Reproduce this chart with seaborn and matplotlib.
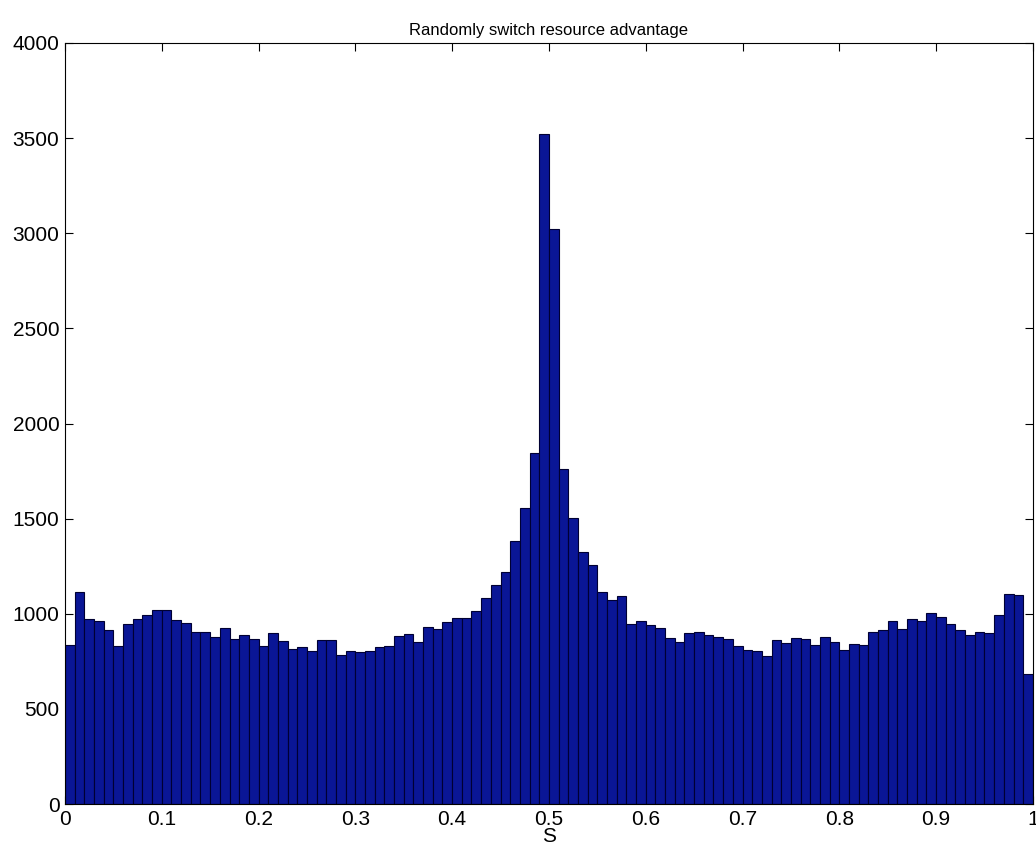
import numpy as np
import pandas as pd
import matplotlib
matplotlib.use("Agg")
import matplotlib.pyplot as plt
import seaborn as sns

# histogram counts, 100 bins of width 0.01 on [0, 1]
bin_edges = [round(i * 0.01, 2) for i in range(101)]
counts = [
    836, 1113, 971, 960, 916, 830, 944, 972, 993, 1021,
    1021, 965, 951, 906, 906, 880, 927, 869, 888, 867,
    830, 897, 857, 813, 823, 804, 862, 862, 785, 804,
    799, 806, 823, 830, 883, 894, 851, 932, 922, 955,
    976, 976, 1016, 1081, 1151, 1218, 1384, 1554, 1843, 3520,
    3022, 1761, 1505, 1323, 1256, 1113, 1070, 1091, 946, 960,
    939, 923, 874, 853, 897, 902, 890, 880, 867, 830,
    809, 804, 776, 862, 848, 872, 867, 834, 878, 853,
    808, 839, 834, 902, 916, 960, 922, 971, 960, 1006,
    981, 944, 916, 888, 906, 900, 993, 1102, 1098, 682,
]
x_ticks = [0, 0.1, 0.2, 0.3, 0.4, 0.5, 0.6, 0.7, 0.8, 0.9, 1]
x_tick_labels = ["0", "0.1", "0.2", "0.3", "0.4", "0.5", "0.6", "0.7", "0.8", "0.9", "1"]
y_ticks = [0, 500, 1000, 1500, 2000, 2500, 3000, 3500, 4000]

centers = [(bin_edges[i] + bin_edges[i + 1]) / 2 for i in range(100)]
df = pd.DataFrame({"S": centers, "count": counts})

sns.set_style("ticks")
plt.rcParams['font.family'] = ['Liberation Sans', 'DejaVu Sans']
plt.rcParams['text.color'] = 'black'
plt.rcParams['axes.labelcolor'] = 'black'
plt.rcParams['xtick.color'] = 'black'
plt.rcParams['ytick.color'] = 'black'

fig = plt.figure(figsize=(10.36, 8.6), dpi=100)
ax = fig.add_axes([0.0627, 0.0651, 0.9343, 0.8849])

sns.histplot(data=df, x="S", weights="count", bins=bin_edges, ax=ax,
             color="#0a1696", edgecolor="#000033", linewidth=0.8, alpha=1.0)

ax.set_xlim(0, 1)
ax.set_ylim(0, 4000)
ax.set_xticks(x_ticks)
ax.set_xticklabels(x_tick_labels)
ax.set_yticks(y_ticks)
ax.tick_params(direction="in", top=True, right=True, labelsize=15, length=6, width=0.8, pad=4)
for s in ax.spines.values():
    s.set_linewidth(0.8)
    s.set_color("black")
ax.set_xlabel("S", fontsize=15, labelpad=-1)
ax.set_ylabel("")
ax.set_title("Randomly switch resource advantage", fontsize=12, pad=6)

fig.savefig("out.png", dpi=100)
